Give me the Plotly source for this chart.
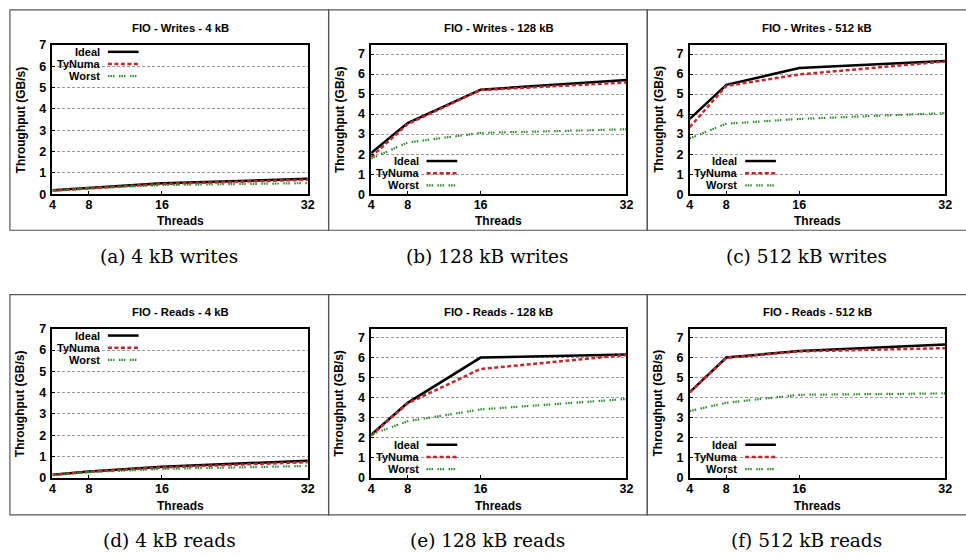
import plotly.graph_objects as go

# ---------------- data ----------------
threads = [4, 8, 16, 32]
x_ticks = [4, 8, 16, 32]
y_ticks = [0, 1, 2, 3, 4, 5, 6, 7]
series_names = ["Ideal", "TyNuma", "Worst"]

titles = ["FIO - Writes - 4 kB", "FIO - Writes - 128 kB", "FIO - Writes - 512 kB",
          "FIO - Reads - 4 kB", "FIO - Reads - 128 kB", "FIO - Reads - 512 kB"]
captions = ["(a) 4 kB writes", "(b) 128 kB writes", "(c) 512 kB writes",
            "(d) 4 kB reads", "(e) 128 kB reads", "(f) 512 kB reads"]

writes_4k_ideal = [0.18, 0.30, 0.51, 0.72]
writes_4k_tynuma = [0.17, 0.28, 0.48, 0.68]
writes_4k_worst = [0.15, 0.27, 0.43, 0.52]
writes_128k_ideal = [2.06, 3.55, 5.22, 5.70]
writes_128k_tynuma = [1.86, 3.50, 5.20, 5.58]
writes_128k_worst = [1.78, 2.58, 3.06, 3.24]
writes_512k_ideal = [3.76, 5.46, 6.30, 6.65]
writes_512k_tynuma = [3.35, 5.41, 5.98, 6.63]
writes_512k_worst = [2.79, 3.52, 3.76, 4.05]
reads_4k_ideal = [0.15, 0.30, 0.52, 0.81]
reads_4k_tynuma = [0.14, 0.29, 0.49, 0.74]
reads_4k_worst = [0.13, 0.27, 0.42, 0.56]
reads_128k_ideal = [2.15, 3.75, 6.01, 6.16]
reads_128k_tynuma = [2.12, 3.72, 5.44, 6.14]
reads_128k_worst = [2.17, 2.83, 3.42, 3.94]
reads_512k_ideal = [4.28, 6.01, 6.34, 6.66]
reads_512k_tynuma = [4.28, 6.00, 6.32, 6.48]
reads_512k_worst = [3.34, 3.75, 4.15, 4.22]

panel_series = [
    [writes_4k_ideal, writes_4k_tynuma, writes_4k_worst],
    [writes_128k_ideal, writes_128k_tynuma, writes_128k_worst],
    [writes_512k_ideal, writes_512k_tynuma, writes_512k_worst],
    [reads_4k_ideal, reads_4k_tynuma, reads_4k_worst],
    [reads_128k_ideal, reads_128k_tynuma, reads_128k_worst],
    [reads_512k_ideal, reads_512k_tynuma, reads_512k_worst],
]
y_max = [7, 7.45, 7.45, 7, 7.45, 7.45]
legend_place = ["top", "bottom", "bottom", "top", "bottom", "bottom"]

# ---------------- style ----------------
W, H = 966, 559
SANS = "Liberation Sans"
SERIF = "DejaVu Serif"
colors = ["#000000", "#c0282d", "#2a8a2a"]
widths = [2.5, 2.5, 2.2]
dashes = ["solid", "4px,2.5px", "1.5px,1px,1.5px,1px,1.5px,4.5px"]

def px(x):
    return x / W

def py(y):
    return 1 - y / H

plot_left = [50, 372, 694]
plot_w = 258
row_top = [39, 330]
row_bot = [192, 483]
box_left = [7, 329, 651]
box_right = [329, 651, 980]
box_top = [3, 295]
box_bot = [229, 521]
title_y = [22, 313]
threads_y = [220, 512]
caption_y = [256, 547]
caption_x = [168, 490, 812]

fig = go.Figure()
annotations = []
shapes = []

for i in range(6):
    r, c = divmod(i, 3)
    n = "" if i == 0 else str(i + 1)
    xa = "x" + n
    ya = "y" + n
    for k in range(3):
        fig.add_trace(go.Scatter(
            x=threads, y=panel_series[i][k], mode="lines", name=series_names[k],
            xaxis=xa, yaxis=ya, showlegend=False,
            line=dict(color=colors[k], width=widths[k], dash=dashes[k]),
        ))
    x0, x1 = plot_left[c], plot_left[c] + plot_w
    fig.layout["xaxis" + n] = dict(
        domain=[px(x0), px(x1)], anchor=ya, range=[4, 32],
        tickvals=x_ticks, ticks="inside", ticklen=3, tickcolor="black",
        showline=True, linecolor="black", linewidth=1.5, mirror=True,
        showgrid=False, zeroline=False, ticklabelstandoff=-2,
        tickfont=dict(family=SANS, size=12.5, color="black", weight="bold"),
    )
    fig.layout["yaxis" + n] = dict(
        domain=[py(row_bot[r]), py(row_top[r])], anchor=xa, range=[0, y_max[i]],
        tickvals=y_ticks, ticks="inside", ticklen=3, tickcolor="black",
        showline=True, linecolor="black", linewidth=1.5, mirror=True,
        showgrid=True, gridcolor="#9a9a9a", gridwidth=0.8, griddash="3px,2px",
        zeroline=False, ticklabelstandoff=2,
        tickfont=dict(family=SANS, size=12.5, color="black", weight="bold"),
    )
    cx = (x0 + x1) / 2
    annotations.append(dict(x=px(cx), y=py(title_y[r]), xref="paper", yref="paper",
                            text=titles[i], showarrow=False, xanchor="center", yanchor="middle",
                            font=dict(family=SANS, size=11.3, color="black", weight="bold")))
    annotations.append(dict(x=px(cx), y=py(threads_y[r]), xref="paper", yref="paper",
                            text="Threads", showarrow=False, xanchor="center", yanchor="middle",
                            font=dict(family=SANS, size=12, color="black", weight="bold")))
    annotations.append(dict(x=px(box_left[c] + 11), y=py((row_top[r] + row_bot[r]) / 2),
                            xref="paper", yref="paper", text="Throughput (GB/s)", textangle=-90,
                            showarrow=False, xanchor="center", yanchor="middle",
                            font=dict(family=SANS, size=12, color="black", weight="bold")))
    annotations.append(dict(x=px(caption_x[c]), y=py(caption_y[r]), xref="paper", yref="paper",
                            text=captions[i], showarrow=False, xanchor="center", yanchor="middle",
                            font=dict(family=SERIF, size=18.5, color="black")))
    # legend (gnuplot style: text then sample)
    if legend_place[i] == "top":
        rows_y = [row_top[r] + 7, row_top[r] + 19.5, row_top[r] + 32]
    else:
        rows_y = [row_bot[r] - 34, row_bot[r] - 21.5, row_bot[r] - 9]
    shapes.append(dict(type="rect", xref="paper", yref="paper", layer="between",
                       x0=px(x0 + 3), x1=px(x0 + 94), y0=py(rows_y[0] - 6), y1=py(rows_y[2] + 6),
                       fillcolor="white", line=dict(width=0)))
    for k in range(3):
        annotations.append(dict(x=px(x0 + 49), y=py(rows_y[k]), xref="paper", yref="paper",
                                text=series_names[k], showarrow=False, xanchor="right",
                                yanchor="middle", borderpad=0,
                                font=dict(family=SANS, size=11, color="black", weight="bold")))
        shapes.append(dict(type="line", xref="paper", yref="paper",
                           x0=px(x0 + 56), x1=px(x0 + 87), y0=py(rows_y[k]), y1=py(rows_y[k]),
                           line=dict(color=colors[k], width=widths[k], dash=dashes[k])))
    # outer panel frame
    shapes.append(dict(type="rect", xref="paper", yref="paper", layer="below",
                       x0=px(box_left[c]), x1=px(box_right[c]),
                       y0=py(box_bot[r]), y1=py(box_top[r]),
                       line=dict(color="#555555", width=1.2), fillcolor="rgba(0,0,0,0)"))

fig.update_layout(
    width=W, height=H, margin=dict(l=0, r=0, t=0, b=0),
    paper_bgcolor="white", plot_bgcolor="white",
    annotations=annotations, shapes=shapes, showlegend=False,
)

fig.write_html("out.html", config={"displayModeBar": False},
               post_script="document.body.style.margin='0';document.body.style.padding='0';"
                           "document.body.style.overflow='hidden';")
